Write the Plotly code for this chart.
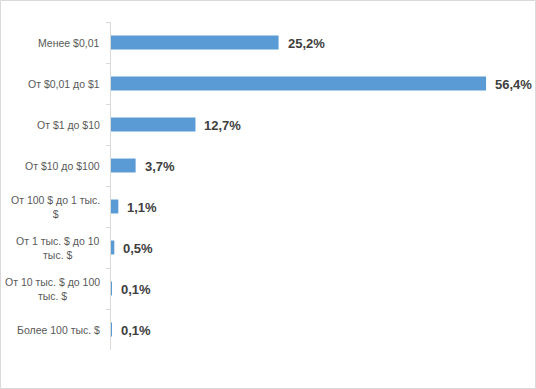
import plotly.graph_objects as go

categories = [
    "Менее $0,01",
    "От $0,01 до $1",
    "От $1 до $10",
    "От $10 до $100",
    "От 100 $ до 1 тыс.<br>$",
    "От 1 тыс. $ до 10<br>тыс. $",
    "От 10 тыс. $ до 100<br>тыс. $",
    "Более 100 тыс. $",
]
values = [25.2, 56.4, 12.7, 3.7, 1.1, 0.5, 0.1, 0.1]
value_labels = ["25,2%", "56,4%", "12,7%", "3,7%", "1,1%", "0,5%", "0,1%", "0,1%"]

ids = [f"c{i}" for i in range(len(categories))]

fig = go.Figure()
fig.add_trace(go.Bar(
    x=values, y=ids, orientation="h",
    marker=dict(color="#5B9BD5", line=dict(width=0)),
    hoverinfo="skip",
))

annotations = []
for cid, cat in zip(ids, categories):
    annotations.append(dict(
        xref="paper", yref="y", x=0, y=cid, text=cat, showarrow=False,
        xanchor="right", yanchor="middle", align="center", xshift=-9,
        font=dict(family="Liberation Sans, Arial, sans-serif", size=10.5, color="#595959"),
    ))
for cid, v, lab in zip(ids, values, value_labels):
    annotations.append(dict(
        xref="x", yref="y", x=v, y=cid, text="<b>" + lab + "</b>", showarrow=False,
        xanchor="left", yanchor="middle", xshift=7, yshift=-1,
        font=dict(family="Liberation Sans, Arial, sans-serif", size=13, color="#404040"),
    ))

# plot area in px: x 111..510, y 22..350
L, R, T, B = 111, 510, 22, 350
W, H = 536, 389
def px2x(p):
    return (p - L) / (R - L)
def py2y(p):
    return (B - p) / (B - T)

fig.update_layout(
    width=W, height=H,
    margin=dict(l=L, r=W - R, t=T, b=H - B, pad=0),
    paper_bgcolor="white", plot_bgcolor="white",
    showlegend=False,
    bargap=0.66,
    annotations=annotations,
    shapes=[dict(
        type="rect", xref="paper", yref="paper",
        x0=px2x(0.5), x1=px2x(535.5), y0=py2y(388.5), y1=py2y(0.5),
        line=dict(color="#D9D9D9", width=1), layer="below",
    )],
    xaxis=dict(range=[0, 60], visible=False, fixedrange=True),
    yaxis=dict(
        type="category", autorange="reversed",
        showline=True, linecolor="#D9D9D9", linewidth=1,
        ticks="outside", ticklen=4, tickcolor="#D9D9D9", tickwidth=1,
        tickson="boundaries", showticklabels=False, showgrid=False,
        zeroline=False,
    ),
)

fig.write_html(
    "out.html",
    config={"displayModeBar": False},
    post_script="document.body.style.margin='0';document.body.style.overflow='hidden';",
)
